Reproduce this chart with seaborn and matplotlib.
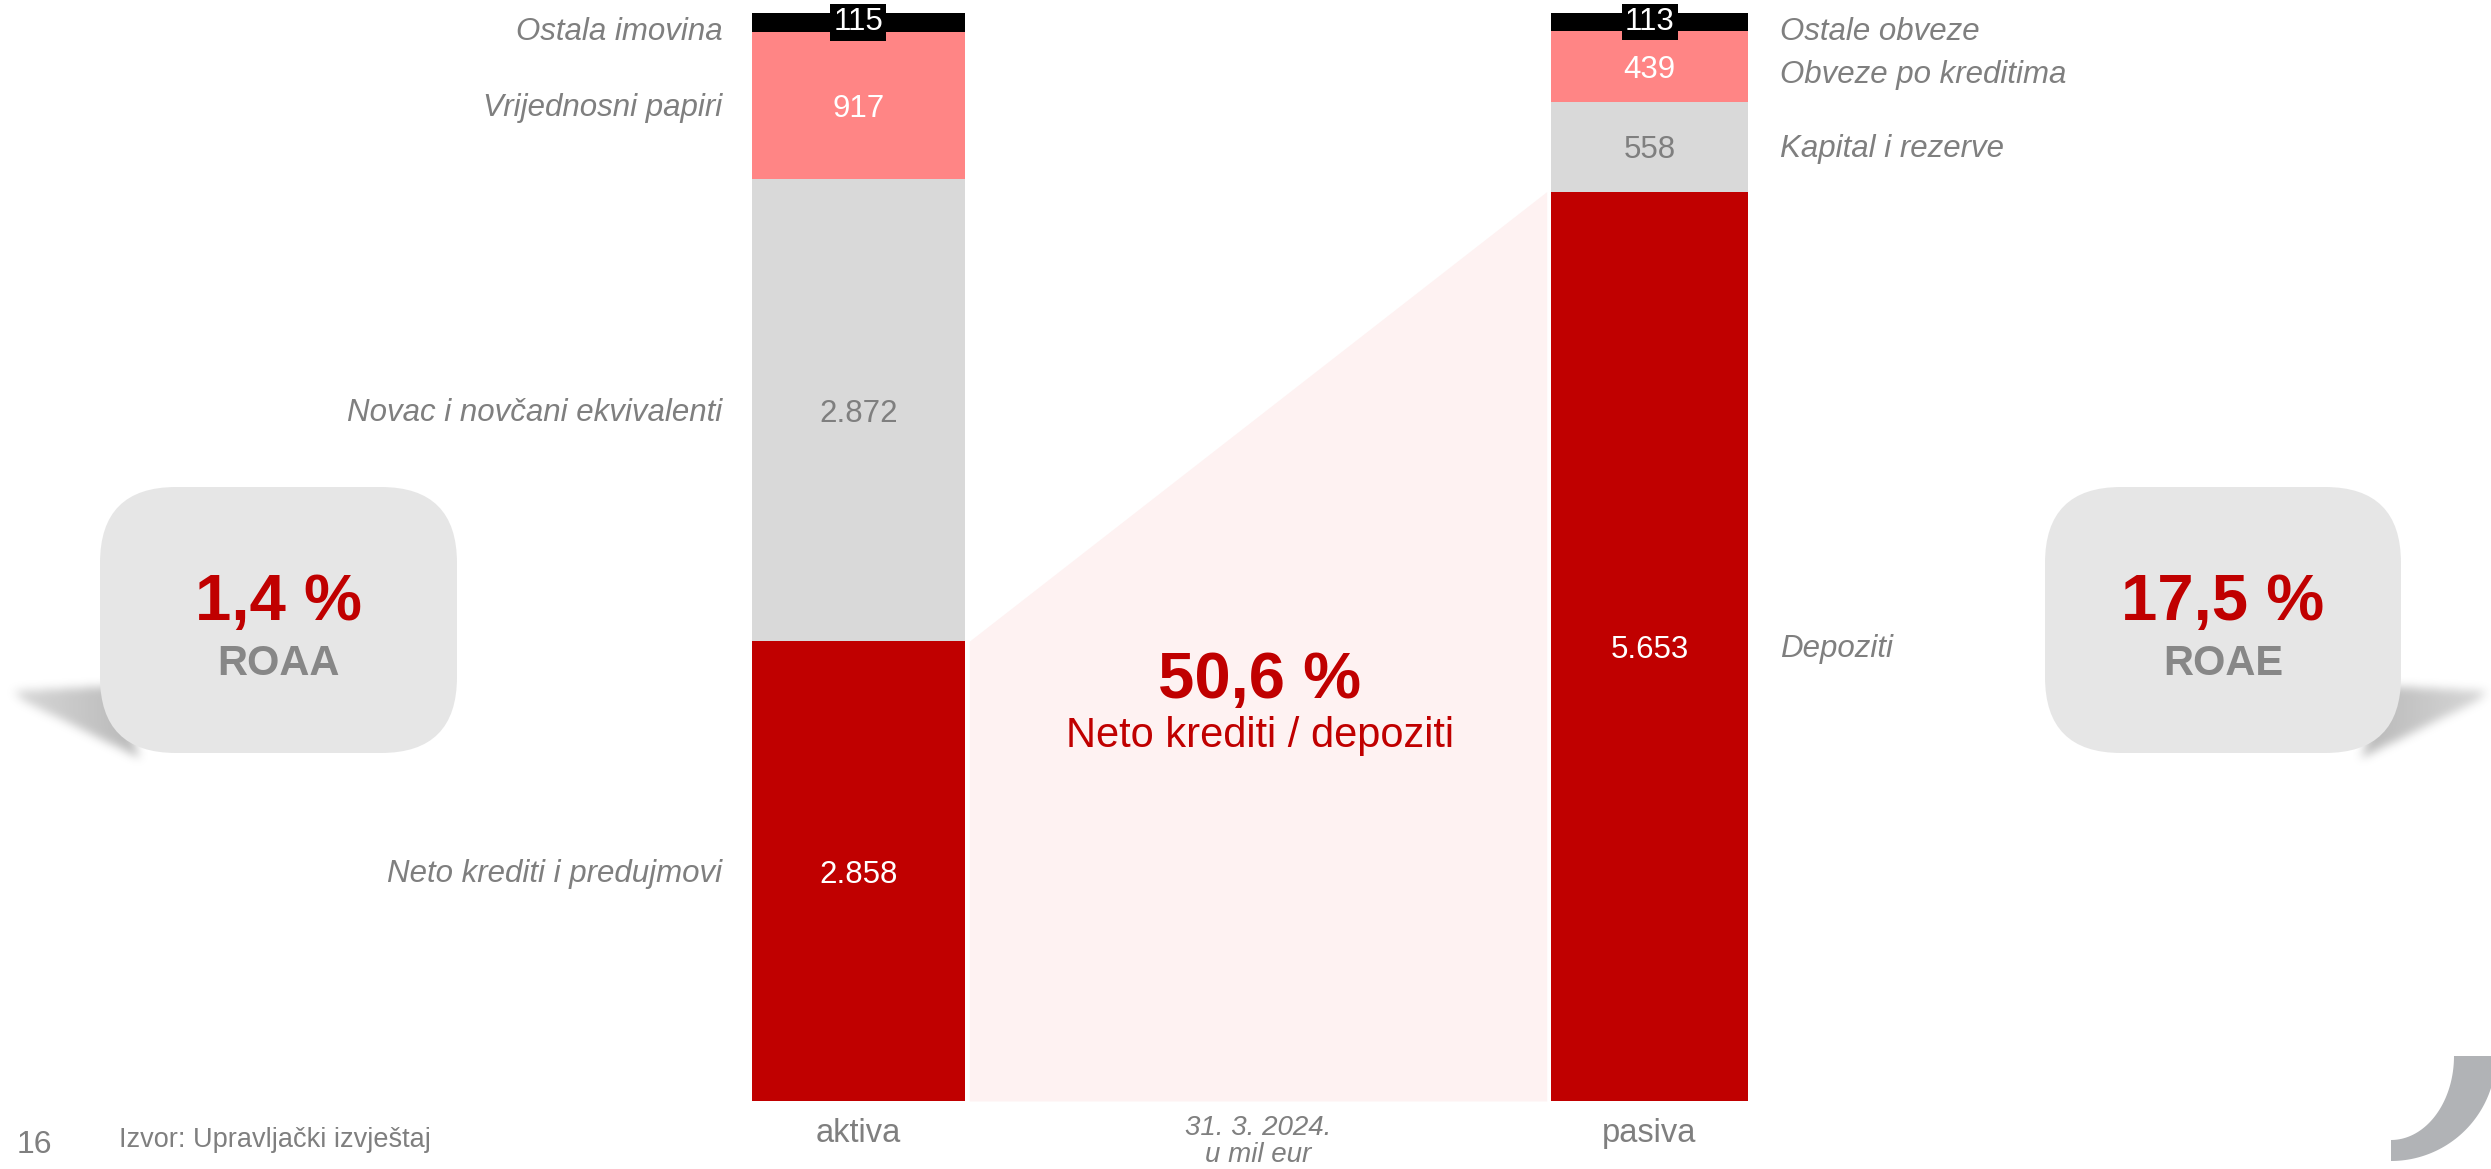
import numpy as np
import pandas as pd
import matplotlib
matplotlib.use('Agg')
import matplotlib.pyplot as plt
import seaborn as sns
from matplotlib.patches import FancyBboxPatch, Polygon
from matplotlib.path import Path

# podaci (u mil eur, 31. 3. 2024.)
strane = ['aktiva', 'pasiva']
aktiva_stavke = ['Neto krediti i predujmovi', 'Novac i novčani ekvivalenti',
                 'Vrijednosni papiri', 'Ostala imovina']
aktiva_iznosi = [2858, 2872, 917, 115]
pasiva_stavke = ['Depoziti', 'Kapital i rezerve', 'Obveze po kreditima', 'Ostale obveze']
pasiva_iznosi = [5653, 558, 439, 113]

roaa = '1,4 %'
roae = '17,5 %'
krediti_depoziti = '50,6 %'

boje = ['#C00000', '#D9D9D9', '#FF8585', '#000000']
boje_teksta = ['white', '#7F7F7F', 'white', 'white']
SIVA = '#7F7F7F'
CRVENA = '#C00000'

sns.set_style('white')
plt.rcParams['font.family'] = ['Liberation Sans', 'DejaVu Sans']

fig = plt.figure(figsize=(24.91, 11.69), dpi=100)

# pozadinski sloj u pikselima
deco = fig.add_axes([0, 0, 1, 1])
deco.axis('off')

ax = fig.add_axes([0, 0.0582, 1, 0.9307])
ax.patch.set_alpha(0)

rows = []
for strana, iznosi in zip(strane, [aktiva_iznosi, pasiva_iznosi]):
    kum = np.cumsum(iznosi)
    for i, (v, k) in enumerate(zip(iznosi, kum)):
        rows.append({'strana': strana, 'sloj': i, 'iznos': v, 'vrh': k})
df = pd.DataFrame(rows)

sirine = {'aktiva': 0.27, 'pasiva': 0.25}

# slozeni stupci: najprije ukupni vrh, pa manji kumulativi preko njega
for strana in strane:
    for sloj in [3, 2, 1, 0]:
        d = df[(df.strana == strana) & (df.sloj == sloj)]
        sns.barplot(data=d, x='strana', y='vrh', order=strane, color=boje[sloj],
                    saturation=1, width=sirine[strana], errorbar=None,
                    linewidth=0, ax=ax, zorder=2)

ax.set_xlim(-1.0853, 2.0638)
ax.set_ylim(0, 6763)
ax.set_xlabel('')
ax.set_ylabel('')
ax.set_yticks([])
for s in ax.spines.values():
    s.set_visible(False)
ax.tick_params(axis='x', length=0, pad=12, labelsize=23.5, labelcolor=SIVA)

# trapez krediti -> depoziti
x0 = sirine['aktiva'] / 2 + 0.005
x1 = 1 - sirine['pasiva'] / 2 - 0.005
ax.fill_between([x0, x1], [aktiva_iznosi[0], pasiva_iznosi[0]], 0,
                color='#FEF2F2', lw=0, zorder=0)

# vrijednosti u stupcima
for _, r in df.iterrows():
    xi = strane.index(r.strana)
    tekst = f"{int(r.iznos):,}".replace(',', '.')
    kw = dict(ha='center', va='center', fontsize=22.5, color=boje_teksta[r.sloj], zorder=5)
    if r.sloj == 3:
        kw['bbox'] = dict(facecolor='black', edgecolor='none', boxstyle='square,pad=0.1')
        pomak = 0
    else:
        pomak = -2.5
    ax.annotate(tekst, xy=(xi, r.vrh - r.iznos / 2), xytext=(0, pomak),
                textcoords='offset points', **kw)

# nazivi stavki
pomaci_lijevo = [-2, -2, -2, -7]
pomaci_desno = [-2, -2, -6, -7]
kum_a = np.cumsum(aktiva_iznosi)
for naziv, v, k, p in zip(aktiva_stavke, aktiva_iznosi, kum_a, pomaci_lijevo):
    ax.annotate(naziv, xy=(-sirine['aktiva'] / 2, k - v / 2), xytext=(-21, p),
                textcoords='offset points', ha='right', va='center',
                fontsize=22.5, style='italic', color=SIVA)
kum_p = np.cumsum(pasiva_iznosi)
for naziv, v, k, p in zip(pasiva_stavke, pasiva_iznosi, kum_p, pomaci_desno):
    ax.annotate(naziv, xy=(1 + sirine['pasiva'] / 2, k - v / 2), xytext=(23, p),
                textcoords='offset points', ha='left', va='center',
                fontsize=22.5, style='italic', color=SIVA)

# omjer u sredini (iznad trapeza)
ax.text(1260, 698, krediti_depoziti, transform=deco.transData, ha='center',
        va='baseline', fontsize=47, weight='bold', color=CRVENA, zorder=6)
ax.text(1260, 747, 'Neto krediti / depoziti', transform=deco.transData,
        ha='center', va='baseline', fontsize=30, color=CRVENA, zorder=6)


def boxblur(a, r):
    k = np.ones(2 * r + 1) / (2 * r + 1)
    for _ in range(3):
        a = np.apply_along_axis(lambda m: np.convolve(m, k, mode='same'), 0, a)
        a = np.apply_along_axis(lambda m: np.convolve(m, k, mode='same'), 1, a)
    return a


def sjena(pts, vrh_lijevo):
    pts = np.array(pts, float)
    xa, xb = int(pts[:, 0].min()) - 30, int(pts[:, 0].max()) + 30
    ya, yb = int(pts[:, 1].min()) - 30, int(pts[:, 1].max()) + 30
    gx, gy = np.meshgrid(np.arange(xa, xb) + 0.5, np.arange(ya, yb) + 0.5)
    maska = Path(pts).contains_points(np.column_stack([gx.ravel(), gy.ravel()]))
    maska = boxblur(maska.reshape(gx.shape).astype(float), 4)
    t = (gx - pts[:, 0].min()) / np.ptp(pts[:, 0])
    if not vrh_lijevo:
        t = 1 - t
    rampa = np.clip(0.55 + 0.45 * t, 0, 1)
    rgba = np.zeros(gx.shape + (4,))
    rgba[..., :3] = 0.55
    rgba[..., 3] = maska * rampa * 0.62
    deco.imshow(rgba, extent=(xa, xb, yb, ya), origin='upper', zorder=1,
                interpolation='bilinear', aspect='auto')


sjena([(14, 691), (112, 686), (140, 758), (22, 700)], True)
sjena([(2487, 691), (2389, 686), (2361, 758), (2479, 700)], False)

for x, w, vrijednost, naziv in [(100, 357, roaa, 'ROAA'), (2045, 356, roae, 'ROAE')]:
    deco.add_patch(FancyBboxPatch((x, 487), w, 266, boxstyle='round,pad=0,rounding_size=76',
                                  fc='#E6E6E6', ec='none', zorder=2))
    cx = x + w / 2
    deco.text(cx, 620, vrijednost, ha='center', va='baseline', fontsize=47,
              weight='bold', color=CRVENA, zorder=3)
    deco.text(cx, 675, naziv, ha='center', va='baseline', fontsize=30,
              weight='bold', color='#878787', zorder=3)

# podnozje
deco.text(17, 1153, '16', ha='left', va='baseline', fontsize=23, color=SIVA)
deco.text(119, 1147, 'Izvor: Upravljački izvještaj', ha='left', va='baseline',
          fontsize=19.5, color=SIVA)
deco.text(1258, 1135, '31. 3. 2024.', ha='center', va='baseline', fontsize=20,
          style='italic', color=SIVA)
deco.text(1258, 1162, 'u mil eur', ha='center', va='baseline', fontsize=20,
          style='italic', color=SIVA)

# luk u donjem desnom kutu
t = np.linspace(0, np.pi / 2, 60)
cx, cy = 2391, 1056
vanjski = np.column_stack([cx + 105 * np.cos(t), cy + 105 * np.sin(t)])
unutarnji = np.column_stack([cx + 63 * np.cos(t), cy + 84 * np.sin(t)])[::-1]
deco.add_patch(Polygon(np.vstack([vanjski, unutarnji]), closed=True,
                       fc='#B1B3B6', ec='none'))

deco.set_xlim(0, 2491)
deco.set_ylim(1169, 0)

fig.savefig('out.png', dpi=100)
